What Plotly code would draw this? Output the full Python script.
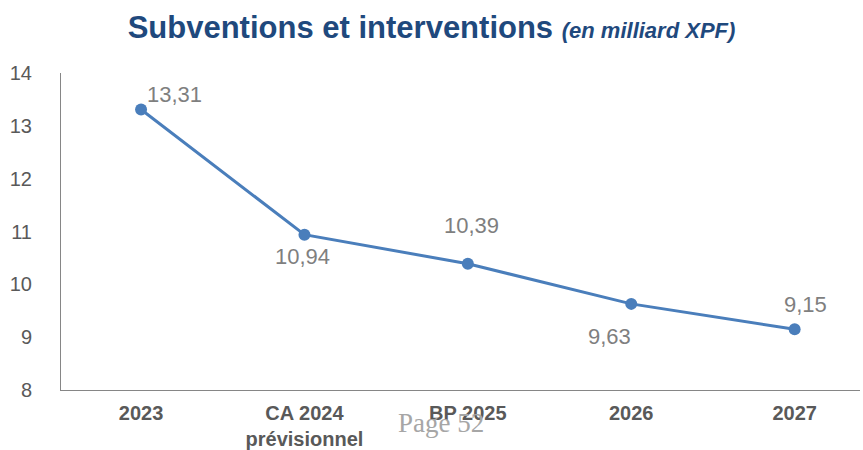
import plotly.graph_objects as go

categories = ["2023", "CA 2024<br>prévisionnel", "BP 2025", "2026", "2027"]
values = [13.31, 10.94, 10.39, 9.63, 9.15]
labels = ["13,31", "10,94", "10,39", "9,63", "9,15"]
y_ticks = [8, 9, 10, 11, 12, 13, 14]

# label offsets in pixels (style only)
label_dx = [33, -2, 4, -22, 11]
label_dy = [15, -22, 38, -33, 25]

xs = list(range(len(categories)))

fig = go.Figure()
fig.add_trace(go.Scatter(
    x=xs, y=values,
    mode="lines+markers",
    line=dict(color="#4a7ebb", width=3),
    marker=dict(color="#4a7ebb", size=12),
    hoverinfo="skip",
))

annotations = []
for x, v, t, dx, dy in zip(xs, values, labels, label_dx, label_dy):
    annotations.append(dict(
        x=x, y=v, xref="x", yref="y", text=t, showarrow=False,
        xanchor="center", yanchor="middle", xshift=dx, yshift=dy,
        font=dict(family="Liberation Sans, Arial", size=22, color="#7f7f7f"),
    ))
annotations.append(dict(
    text="Page 52", x=(441 - 61) / (863 - 64), y=(390 - 423) / (450 - 133),
    xref="paper", yref="paper", showarrow=False, yanchor="middle",
    font=dict(family="Liberation Serif, Times New Roman", size=27, color="#a6a6a6"),
))

fig.update_layout(
    width=863, height=450,
    margin=dict(l=61, r=3, t=73, b=60),
    paper_bgcolor="white", plot_bgcolor="white",
    showlegend=False,
    title=dict(
        text="<b>Subventions et interventions</b> <b><i><span style='font-size:22px'>(en milliard XPF)</span></i></b>",
        x=0.5, xanchor="center", y=0.94, yanchor="middle",
        font=dict(family="Liberation Sans, Arial", size=31, color="#1f497d"),
    ),
    xaxis=dict(
        range=[-0.49, 4.40], automargin=False,
        tickmode="array", tickvals=xs, ticktext=[f"<b>{c}</b>" for c in categories],
        tickfont=dict(family="Liberation Sans, Arial", size=20, color="#595959"),
        showgrid=False, zeroline=False, showline=True, linecolor="#868686", linewidth=1,
        ticks="", ticklabelstandoff=5,
    ),
    yaxis=dict(
        range=[8, 14], tickmode="array", tickvals=y_ticks, automargin=False,
        tickfont=dict(family="Liberation Sans, Arial", size=20, color="#595959"),
        showgrid=False, zeroline=False, showline=True, linecolor="#868686", linewidth=1,
        ticks="", ticklabelstandoff=24,
    ),
    annotations=annotations,
)

fig.write_html("out.html")
